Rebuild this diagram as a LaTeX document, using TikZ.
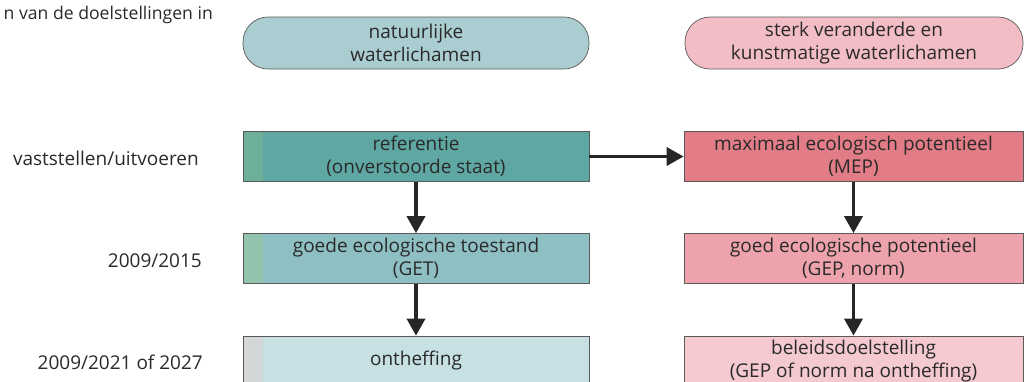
\documentclass[tikz,border=0pt]{standalone}
\usepackage{fontspec}
\setmainfont{Open Sans}
\usetikzlibrary{arrows.meta}
\definecolor{tealA}{HTML}{A9CDD0}
\definecolor{tealAs}{HTML}{A3CBBF}
\definecolor{tealB}{HTML}{5FA7A2}
\definecolor{tealBs}{HTML}{6DAF98}
\definecolor{tealC}{HTML}{8DBFC3}
\definecolor{tealCs}{HTML}{92C3AC}
\definecolor{tealD}{HTML}{C6E0E4}
\definecolor{tealDs}{HTML}{D3D7D7}
\definecolor{pinkA}{HTML}{F3BDC6}
\definecolor{pinkB}{HTML}{E27C86}
\definecolor{pinkC}{HTML}{EEA3AC}
\definecolor{pinkD}{HTML}{F4C9D0}
\definecolor{txt}{HTML}{2A2A2A}
\begin{document}
\begin{tikzpicture}[x=1pt,y=-1pt,
  every node/.style={text=txt},
  txtfont/.style={font=\fontsize{19}{23}\selectfont},
  box/.style={draw=black!65, line width=0.7pt, minimum width=346pt, minimum height=50pt,
    align=center, inner sep=0pt, txtfont},
  rbox/.style={box, minimum width=339pt},
  stad/.style={box, rounded corners=25pt, minimum height=52pt},
  stripe/.style={path picture={\fill[#1] (path picture bounding box.north west) rectangle ([xshift=20pt]path picture bounding box.south west);}},
  lab/.style={anchor=east, inner sep=0pt, txtfont},
  arr/.style={line width=3.5pt, black!85, -{Triangle[length=17pt,width=18pt]}}
]
\useasboundingbox (0,0) rectangle (1028,381);
\clip (0,0) rectangle (1028,381);
\fill[white] (0,0) rectangle (1028,381);

% left labels
\node[lab, font=\fontsize{17.6}{21}\selectfont] (t0) at (213,15) {n van de doelstellingen in};
\node[lab] (t1) at (199,158) {vaststellen/uitvoeren};
\node[lab] (t2) at (202,261) {2009/2015};
\node[lab] (t3) at (203,362) {2009/2021 of 2027};

% top stadiums
\node[stad, fill=tealA] (nat) at (416,43) {natuurlijke\\waterlichamen};
\node[stad, fill=pinkA, minimum width=338pt] (kun) at (854,43) {sterk veranderde en\\kunstmatige waterlichamen};

% left column
\node[box, fill=tealB, stripe=tealBs] (ref) at (416,156.5) {referentie\\(onverstoorde staat)};
\node[box, fill=tealC, stripe=tealCs] (get) at (416,258.5) {goede ecologische toestand\\(GET)};
\node[box, fill=tealD, stripe=tealDs] (onth) at (416,361) {ontheffing};

% right column
\node[rbox, fill=pinkB] (mep) at (853.5,156.5) {maximaal ecologisch potentieel\\(MEP)};
\node[rbox, fill=pinkC] (gep) at (853.5,258.5) {goed ecologische potentieel\\(GEP, norm)};
\node[rbox, fill=pinkD] (bel) at (853.5,361) {beleidsdoelstelling\\(GEP of norm na ontheffing)};

% arrows
\draw[arr] (ref.south) -- (get.north);
\draw[arr] (get.south) -- (onth.north);
\draw[arr] (mep.south) -- (gep.north);
\draw[arr] (gep.south) -- (bel.north);
\draw[arr] (ref.east) -- (mep.west);
\end{tikzpicture}
\end{document}
